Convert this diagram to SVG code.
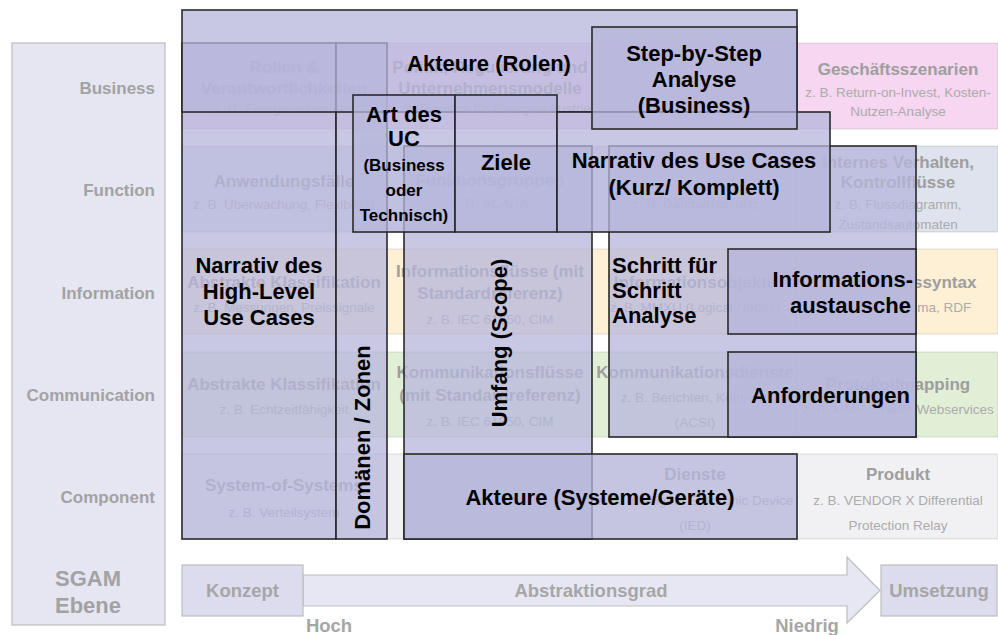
<svg xmlns="http://www.w3.org/2000/svg" width="998" height="635" viewBox="0 0 998 635">
<style>
text{font-family:"Liberation Sans",Arial,sans-serif}
.cell{stroke:#000;stroke-opacity:0.12;stroke-width:1}
.biz{fill:#f6d6f0}.fun{fill:#dfe3ee}.inf{fill:#fdf0d4}.com{fill:#e2efd7}.cmp{fill:#f1f1f3}
.gt{font-size:17px;font-weight:bold;fill:#9e9e9e;text-anchor:middle}
.gs{font-size:13.5px;fill:#ababab;text-anchor:middle}
.ov{fill:#b6b6db;fill-opacity:0.75;stroke:#2a2a2a;stroke-width:1.6}
.lb{font-size:22px;font-weight:bold;fill:#000;text-anchor:middle}
.lbs{font-size:17px;font-weight:bold;fill:#000;text-anchor:middle}
.lay{font-size:17px;font-weight:bold;fill:#a2a2a2;text-anchor:end}
.ax{font-size:18.5px;font-weight:bold;fill:#a6a6a6;text-anchor:middle}
</style>
<rect width="998" height="635" fill="#ffffff"/>

<g id="layer-panel">
<rect x="12" y="43" width="153" height="582" fill="#e6e6f3" stroke="#bdbdbd" stroke-width="1.2"/>
<text class="lay" x="155" y="94">Business</text>
<text class="lay" x="155" y="196">Function</text>
<text class="lay" x="155" y="299">Information</text>
<text class="lay" x="155" y="401">Communication</text>
<text class="lay" x="155" y="503">Component</text>
<text x="88" y="586" style="font-size:22px;font-weight:bold;fill:#a2a2a2;text-anchor:middle">SGAM</text>
<text x="88" y="613" style="font-size:22px;font-weight:bold;fill:#a2a2a2;text-anchor:middle">Ebene</text>
</g>

<g id="grid">
<rect class="cell biz" x="182" y="43" width="205" height="86"/>
<rect class="cell biz" x="387" y="43" width="205" height="86"/>
<rect class="cell biz" x="592" y="43" width="205" height="86"/>
<rect class="cell biz" x="797" y="43" width="201" height="86"/>
<rect class="cell fun" x="182" y="146" width="205" height="86"/>
<rect class="cell fun" x="387" y="146" width="205" height="86"/>
<rect class="cell fun" x="592" y="146" width="205" height="86"/>
<rect class="cell fun" x="797" y="146" width="201" height="86"/>
<rect class="cell inf" x="182" y="249" width="205" height="85"/>
<rect class="cell inf" x="387" y="249" width="205" height="85"/>
<rect class="cell inf" x="592" y="249" width="205" height="85"/>
<rect class="cell inf" x="797" y="249" width="201" height="85"/>
<rect class="cell com" x="182" y="352" width="205" height="85"/>
<rect class="cell com" x="387" y="352" width="205" height="85"/>
<rect class="cell com" x="592" y="352" width="205" height="85"/>
<rect class="cell com" x="797" y="352" width="201" height="85"/>
<rect class="cell cmp" x="182" y="454" width="205" height="85"/>
<rect class="cell cmp" x="387" y="454" width="205" height="85"/>
<rect class="cell cmp" x="592" y="454" width="205" height="85"/>
<rect class="cell cmp" x="797" y="454" width="201" height="85"/>

<text class="gt" x="284" y="73">Rollen &amp;</text>
<text class="gt" x="284" y="94">Verantwortlichkeiten</text>
<text class="gs" x="284" y="113">z. B. Energielieferanten</text>
<text class="gt" x="490" y="73">Politik, Regulierung und</text>
<text class="gt" x="490" y="94">Unternehmensmodelle</text>
<text class="gs" x="490" y="113">z. B. Gesetze für Energieindustrie</text>
<text class="gt" x="898" y="75">Geschäftsszenarien</text>
<text class="gs" x="898" y="97">z. B. Return-on-Invest, Kosten-</text>
<text class="gs" x="898" y="116">Nutzen-Analyse</text>

<text class="gt" x="284" y="187">Anwendungsfälle</text>
<text class="gs" x="284" y="209">z. B. Überwachung, Flexibilität</text>
<text class="gt" x="490" y="186">Funktionsgruppen</text>
<text class="gs" x="490" y="208">z. B. SCADA</text>
<text class="gs" x="695" y="208">z. B. Datenerfassung</text>
<text class="gt" x="898" y="168">Internes Verhalten,</text>
<text class="gt" x="898" y="188">Kontrollflüsse</text>
<text class="gs" x="898" y="209">z. B. Flussdiagramm,</text>
<text class="gs" x="898" y="229">Zustandsautomaten</text>

<text class="gt" x="284" y="288">Abstrakte Klassifikation</text>
<text class="gs" x="284" y="312">z. B. Messungen, Preissignale</text>
<text class="gt" x="490" y="277">Informationsflüsse (mit</text>
<text class="gt" x="490" y="299">Standardreferenz)</text>
<text class="gs" x="490" y="324">z. B. IEC 61850, CIM</text>
<text class="gt" x="695" y="288">Informationsobjekte</text>
<text class="gs" x="695" y="312">z. B. MMXU (Logical Nodes)</text>
<text class="gt" x="898" y="288">Informationssyntax</text>
<text class="gs" x="898" y="312">z. B. XML Schema, RDF</text>

<text class="gt" x="284" y="390">Abstrakte Klassifikation</text>
<text class="gs" x="284" y="414">z. B. Echtzeitfähigkeit</text>
<text class="gt" x="490" y="378">Kommunikationsflüsse</text>
<text class="gt" x="490" y="401">(mit Standardreferenz)</text>
<text class="gs" x="490" y="426">z. B. IEC 61850, CIM</text>
<text class="gt" x="695" y="378">Kommunikationsdienste</text>
<text class="gs" x="695" y="402">z. B. Berichten, Kontrolle</text>
<text class="gs" x="695" y="427">(ACSI)</text>
<text class="gt" x="898" y="390">Protokollmapping</text>
<text class="gs" x="898" y="414">z. B. MMS, SNMP, Webservices</text>

<text class="gt" x="284" y="491">System-of-Systems</text>
<text class="gs" x="284" y="517">z. B. Verteilsystem</text>
<text class="gt" x="695" y="480">Dienste</text>
<text class="gs" x="695" y="505">z. B. Intelligent Electronic Device</text>
<text class="gs" x="695" y="530">(IED)</text>
<text class="gt" x="898" y="480">Produkt</text>
<text class="gs" x="898" y="505">z. B. VENDOR X Differential</text>
<text class="gs" x="898" y="530">Protection Relay</text>
</g>

<g id="axis">
<path d="M303,575 H847 V557 L880,590.5 L847,623 V606 H303 Z" fill="#e7e7f4" stroke="#bdbdbd" stroke-width="1.2"/>
<text class="ax" x="591" y="597">Abstraktionsgrad</text>
<rect x="182" y="565" width="121" height="51" fill="#dcdcee" stroke="#bdbdbd" stroke-width="1.2"/>
<text class="ax" x="242.5" y="597">Konzept</text>
<rect x="881" y="565" width="116" height="51" fill="#dcdcee" stroke="#bdbdbd" stroke-width="1.2"/>
<text class="ax" x="939" y="597">Umsetzung</text>
<text class="ax" x="329" y="632">Hoch</text>
<text class="ax" x="807" y="632">Niedrig</text>
</g>

<g id="node-highlevel">
<rect class="ov" x="182" y="43" width="154" height="496"/>
<text class="lb" x="259" y="273">Narrativ des</text>
<text class="lb" x="259" y="299">High-Level</text>
<text class="lb" x="259" y="325">Use Cases</text>
</g>
<g id="node-domaenen">
<rect class="ov" x="336" y="43" width="51" height="496"/>
<text class="lb" x="370" y="437.5" transform="rotate(-90 370 437.5)">Domänen / Zonen</text>
</g>
<g id="node-akteure-rollen">
<rect class="ov" x="182" y="10" width="615" height="102"/>
<text class="lb" x="489" y="71">Akteure (Rolen)</text>
</g>
<g id="node-umfang">
<rect class="ov" x="404" y="146" width="188" height="393"/>
<text class="lb" x="507" y="343" transform="rotate(-90 507 343)">Umfang (Scope)</text>
</g>
<g id="node-schritt">
<rect class="ov" x="609" y="146" width="307" height="291"/>
<text class="lb" x="612" y="273" style="text-anchor:start">Schritt für</text>
<text class="lb" x="612" y="298" style="text-anchor:start">Schritt</text>
<text class="lb" x="612" y="323" style="text-anchor:start">Analyse</text>
</g>
<g id="node-akteure-systeme">
<rect class="ov" x="404" y="454" width="393" height="85"/>
<text class="lb" x="600" y="505">Akteure (Systeme/Geräte)</text>
</g>
<g id="node-art">
<rect class="ov" x="353" y="95" width="102" height="137"/>
<text class="lb" x="404" y="122">Art des</text>
<text class="lb" x="404" y="146">UC</text>
<text class="lbs" x="404" y="171">(Business</text>
<text class="lbs" x="404" y="196">oder</text>
<text class="lbs" x="404" y="221">Technisch)</text>
</g>
<g id="node-ziele">
<rect class="ov" x="455" y="95" width="102" height="137"/>
<text class="lb" x="506" y="170">Ziele</text>
</g>
<g id="node-narrativ">
<rect class="ov" x="557" y="112" width="273" height="120"/>
<text class="lb" x="694" y="168">Narrativ des Use Cases</text>
<text class="lb" x="694" y="195">(Kurz/ Komplett)</text>
</g>
<g id="node-step">
<rect class="ov" x="592" y="27" width="205" height="102"/>
<text class="lb" x="694" y="61">Step-by-Step</text>
<text class="lb" x="694" y="87">Analyse</text>
<text class="lb" x="694" y="113">(Business)</text>
</g>
<g id="node-info">
<rect class="ov" x="728" y="249" width="188" height="85"/>
<text class="lb" x="913" y="287" style="text-anchor:end">Informations-</text>
<text class="lb" x="911" y="313" style="text-anchor:end">austausche</text>
</g>
<g id="node-anforderungen">
<rect class="ov" x="728" y="352" width="188" height="85"/>
<text class="lb" x="910" y="403" style="text-anchor:end">Anforderungen</text>
</g>
<g id="connectors"></g>
</svg>
